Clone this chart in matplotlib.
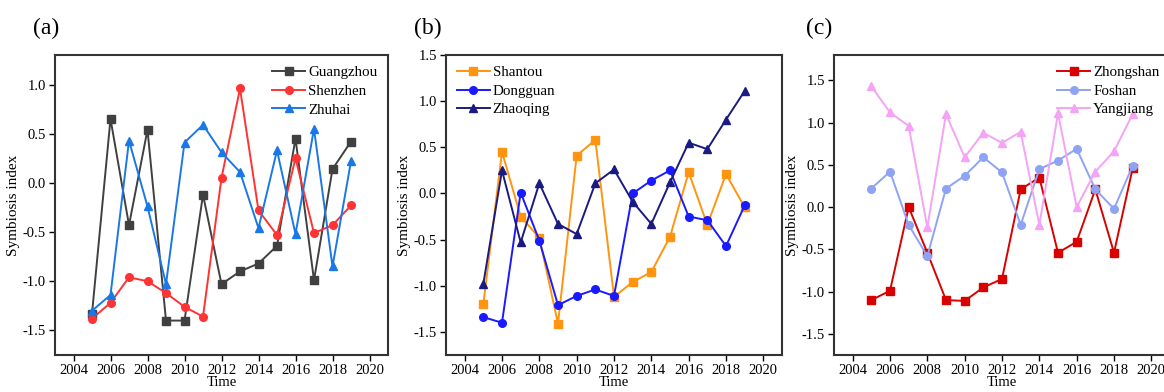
import matplotlib
matplotlib.use("Agg")
import matplotlib.pyplot as plt

plt.rcParams['font.family'] = ['Liberation Serif', 'DejaVu Serif']

years = list(range(2005, 2020))

guangzhou = [-1.33, 0.65, -0.43, 0.54, -1.40, -1.40, -0.12, -1.03, -0.90, -0.82, -0.64, 0.45, -0.99, 0.14, 0.42]
shenzhen = [-1.38, -1.22, -0.96, -1.00, -1.12, -1.26, -1.36, 0.05, 0.96, -0.28, -0.53, 0.25, -0.51, -0.43, -0.23]
zhuhai = [-1.30, -1.14, 0.43, -0.24, -1.03, 0.41, 0.59, 0.31, 0.11, -0.46, 0.33, -0.52, 0.55, -0.85, 0.22]

shantou = [-1.20, 0.45, -0.25, -0.48, -1.41, 0.41, 0.58, -1.12, -0.96, -0.85, -0.47, 0.23, -0.34, 0.21, -0.15]
dongguan = [-1.34, -1.40, 0.01, -0.51, -1.21, -1.11, -1.04, -1.11, 0.00, 0.14, 0.25, -0.25, -0.29, -0.57, -0.13]
zhaoqing = [-0.98, 0.25, -0.53, 0.11, -0.33, -0.44, 0.11, 0.26, -0.09, -0.33, 0.12, 0.55, 0.48, 0.80, 1.11]

zhongshan = [-1.10, -0.99, 0.00, -0.54, -1.10, -1.11, -0.95, -0.85, 0.21, 0.35, -0.54, -0.41, 0.21, -0.54, 0.46]
foshan = [0.22, 0.42, -0.21, -0.58, 0.22, 0.37, 0.59, 0.41, -0.21, 0.45, 0.55, 0.69, 0.21, -0.02, 0.49]
yangjiang = [1.43, 1.12, 0.96, -0.24, 1.10, 0.59, 0.88, 0.76, 0.89, -0.21, 1.11, 0.00, 0.42, 0.66, 1.10]

xticks = [2004, 2006, 2008, 2010, 2012, 2014, 2016, 2018, 2020]

fig = plt.figure(figsize=(11.64, 3.92), dpi=100)

W, H = 1164.0, 392.0
def pos(left, right):
    return [left / W, 37 / H, (right - left) / W, 300 / H]

ax_a = fig.add_axes(pos(55, 388))
ax_b = fig.add_axes(pos(446, 782))
ax_c = fig.add_axes(pos(834, 1170))

panels = [
    (ax_a, [("Guangzhou", guangzhou, "#404040", "s"),
            ("Shenzhen", shenzhen, "#ff3333", "o"),
            ("Zhuhai", zhuhai, "#1a78e6", "^")],
     (-1.75, 1.3), [-1.5, -1.0, -0.5, 0.0, 0.5, 1.0], "upper right", "(a)", 46),
    (ax_b, [("Shantou", shantou, "#ff9410", "s"),
            ("Dongguan", dongguan, "#1a1aff", "o"),
            ("Zhaoqing", zhaoqing, "#1a1a80", "^")],
     (-1.75, 1.5), [-1.5, -1.0, -0.5, 0.0, 0.5, 1.0, 1.5], "upper left", "(b)", 428),
    (ax_c, [("Zhongshan", zhongshan, "#d90000", "s"),
            ("Foshan", foshan, "#8fa3f5", "o"),
            ("Yangjiang", yangjiang, "#f5a3f5", "^")],
     (-1.75, 1.8), [-1.5, -1.0, -0.5, 0.0, 0.5, 1.0, 1.5], "upper right", "(c)", 819),
]

for ax, series, ylim, yticks, legloc, label, lx in panels:
    for name, vals, color, marker in series:
        ax.plot(years, vals, color=color, marker=marker, markersize=5.5, linewidth=1.4, label=name)
    ax.set_xlim(2003, 2021)
    ax.set_ylim(*ylim)
    ax.set_xticks(xticks)
    ax.set_yticks(yticks)
    ax.set_yticklabels([f"{v:.1f}" for v in yticks])
    ax.tick_params(axis='both', direction='out', labelsize=10.5, length=4, width=1,
                   top=False, right=False, pad=2.5)
    for sp in ax.spines.values():
        sp.set_linewidth(1.5)
        sp.set_color("#333333")
    ax.set_xlabel("Time", fontsize=10.5, labelpad=-1)
    ax.set_ylabel("Symbiosis index", fontsize=11, labelpad=2)
    ax.legend(loc=legloc, frameon=False, fontsize=10.8, handlelength=2.2,
              handletextpad=0.2, labelspacing=0.35, borderaxespad=0.3)
    fig.text(lx / W, 1 - 28 / H, label, fontsize=17, ha='center', va='center')

fig.savefig("out.png", dpi=100)
